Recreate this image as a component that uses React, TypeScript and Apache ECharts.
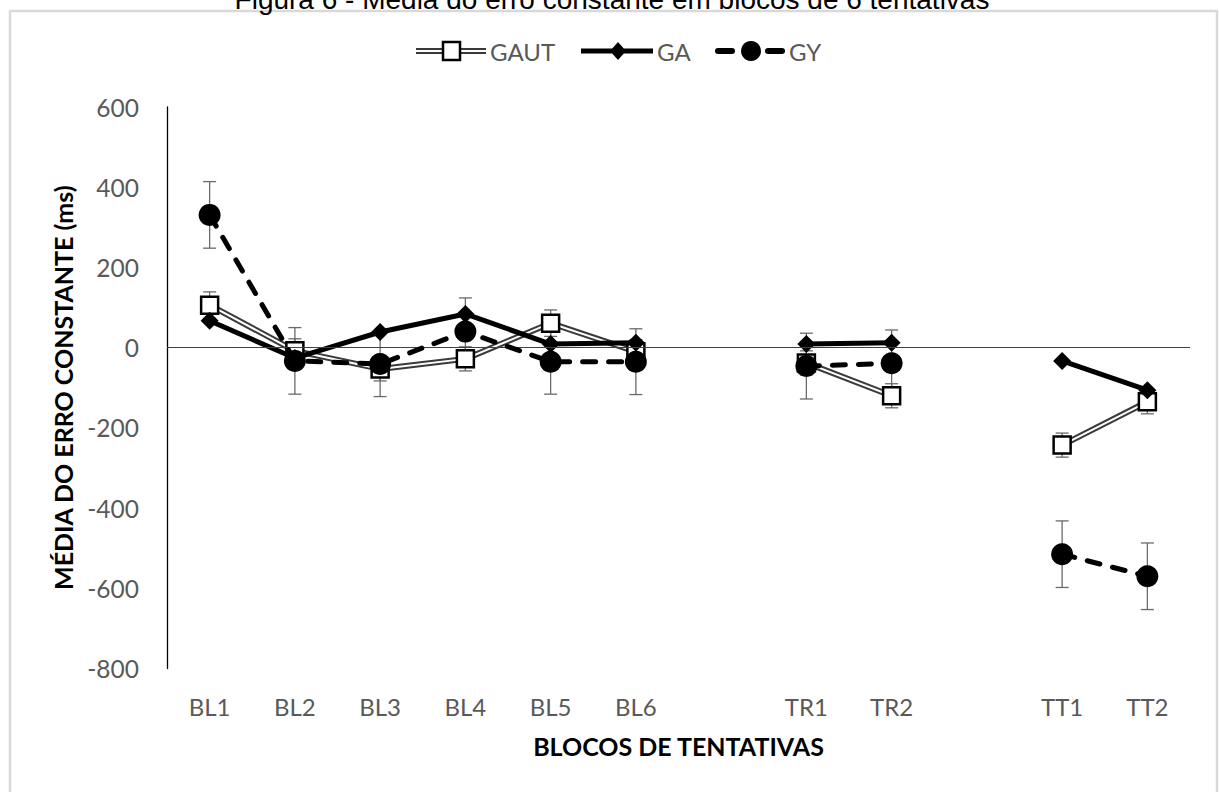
import React, { useEffect, useRef } from 'react';
import * as echarts from 'echarts';

const categories = ['BL1', 'BL2', 'BL3', 'BL4', 'BL5', 'BL6', '', 'TR1', 'TR2', '', 'TT1', 'TT2'];
const gautValues = [106, -8, -53, -28, 61, -10, null, -38, -120, null, -243, -135];
const gaValues = [67, -26, 39, 84, 9, 12, null, 9, 12, null, -33, -106];
const gyValues = [331, -33, -41, 40, -35, -35, null, -46, -39, null, -515, -570];
const gautErrors = [33, 30, 30, 30, 33, 30, null, 30, 30, null, 30, 30];
const gyErrors = [83, 83, 81, 84, 81, 82, null, 82, 83, null, 83, 83];
const yMin = -800;
const yMax = 600;
const yStep = 200;

const titleText = 'Figura 6 - Média do erro constante em blocos de 6 tentativas';
const yTitle = 'MÉDIA DO ERRO CONSTANTE (ms)';
const xTitle = 'BLOCOS DE TENTATIVAS';
const legendNames = ['GAUT', 'GA', 'GY'];

const FONT = 'Lato, "Open Sans", sans-serif';
const GRAY = '#595959';

function errData(vals: (number | null)[], errs: (number | null)[]) {
  const out: number[][] = [];
  vals.forEach((v, i) => {
    const e = errs[i];
    if (v !== null && e !== null) out.push([i, v - e, v + e]);
  });
  return out;
}

const errorRender = (_params: any, api: any) => {
  const x = api.value(0);
  const lo = api.coord([x, api.value(1)]);
  const hi = api.coord([x, api.value(2)]);
  const cap = 6.5;
  const style = { stroke: '#6a6a6a', lineWidth: 1.3 };
  return {
    type: 'group',
    children: [
      { type: 'line', shape: { x1: hi[0], y1: hi[1], x2: lo[0], y2: lo[1] }, style },
      { type: 'line', shape: { x1: hi[0] - cap, y1: hi[1], x2: hi[0] + cap, y2: hi[1] }, style },
      { type: 'line', shape: { x1: lo[0] - cap, y1: lo[1], x2: lo[0] + cap, y2: lo[1] }, style },
    ],
  };
};

export default function App() {
  const ref = useRef<HTMLDivElement>(null);
  useEffect(() => {
    if (!ref.current) return;
    const chart = echarts.init(ref.current, undefined, { renderer: 'svg' });
    const legendY = 51;
    const option: any = {
      animation: false,
      backgroundColor: '#ffffff',
      grid: { left: 167, right: 29, top: 107, bottom: 123.5, containLabel: false },
      xAxis: {
        type: 'category',
        data: categories,
        boundaryGap: true,
        axisLine: { show: false, onZero: false },
        axisTick: { show: false },
        splitLine: { show: false },
        axisLabel: { color: GRAY, fontFamily: FONT, fontSize: 24, margin: 26, interval: 0 },
        name: xTitle,
        nameLocation: 'middle',
        nameGap: 65,
        nameTextStyle: { color: '#000', fontFamily: FONT, fontSize: 25, fontWeight: 'bold' },
      },
      yAxis: {
        type: 'value',
        min: yMin,
        max: yMax,
        interval: yStep,
        axisLine: { show: true, lineStyle: { color: '#000', width: 1.3 } },
        axisTick: { show: false },
        splitLine: { show: false },
        axisLabel: { color: GRAY, fontFamily: FONT, fontSize: 24.5, margin: 28 },
        name: yTitle,
        nameLocation: 'middle',
        nameRotate: 90,
        nameGap: 92,
        nameTextStyle: { color: '#000', fontFamily: FONT, fontSize: 25, fontWeight: 'bold' },
      },
      series: [
        {
          type: 'custom',
          name: 'errGAUT',
          renderItem: errorRender,
          data: errData(gautValues, gautErrors),
          encode: { x: 0, y: [1, 2] },
          z: 1,
          silent: true,
        },
        {
          type: 'custom',
          name: 'errGY',
          renderItem: errorRender,
          data: errData(gyValues, gyErrors),
          encode: { x: 0, y: [1, 2] },
          z: 1,
          silent: true,
        },
        {
          type: 'line',
          name: 'GAUT_outline',
          data: gautValues,
          showSymbol: false,
          symbol: 'none',
          lineStyle: { color: '#3a3a3a', width: 6 },
          connectNulls: false,
          z: 2,
          markLine: {
            silent: true,
            symbol: ['none', 'none'],
            label: { show: false },
            lineStyle: { color: '#404040', width: 1.2, type: 'solid' },
            data: [{ yAxis: 0 }],
          },
        },
        {
          type: 'line',
          name: 'GAUT',
          data: gautValues,
          symbol: 'rect',
          symbolSize: 17,
          lineStyle: { color: '#ffffff', width: 2 },
          itemStyle: { color: '#ffffff', borderColor: '#000', borderWidth: 2.5 },
          connectNulls: false,
          z: 3,
        },
        {
          type: 'line',
          name: 'GA',
          data: gaValues,
          symbol: 'diamond',
          symbolSize: 18,
          lineStyle: { color: '#000', width: 5 },
          itemStyle: { color: '#000' },
          connectNulls: false,
          z: 4,
        },
        {
          type: 'line',
          name: 'GY',
          data: gyValues,
          symbol: 'circle',
          symbolSize: 22,
          lineStyle: { color: '#000', width: 5, type: [13, 13], cap: 'round' },
          itemStyle: { color: '#000' },
          connectNulls: false,
          z: 5,
        },
      ],
      graphic: [
        {
          type: 'rect',
          shape: { x: 10, y: 11, width: 1207, height: 800 },
          style: { fill: 'none', stroke: '#d9d9d9', lineWidth: 2.5 },
          silent: true,
        },
        {
          type: 'text',
          x: 612,
          y: -1,
          style: {
            text: titleText,
            fill: '#000',
            fontFamily: '"Liberation Sans", Arial, sans-serif',
            fontSize: 28,
            align: 'center',
            verticalAlign: 'middle',
          },
          silent: true,
        },
        // legend GAUT
        { type: 'line', shape: { x1: 416, y1: legendY, x2: 486, y2: legendY }, style: { stroke: '#3a3a3a', lineWidth: 6 } },
        { type: 'line', shape: { x1: 416, y1: legendY, x2: 486, y2: legendY }, style: { stroke: '#ffffff', lineWidth: 2 } },
        { type: 'rect', shape: { x: 443, y: legendY - 9, width: 17, height: 18 }, style: { fill: '#fff', stroke: '#000', lineWidth: 2.5 } },
        {
          type: 'text', x: 490, y: legendY,
          style: { text: legendNames[0], fill: GRAY, fontFamily: FONT, fontSize: 24, align: 'left', verticalAlign: 'middle' },
        },
        // legend GA
        { type: 'line', shape: { x1: 581, y1: legendY, x2: 653, y2: legendY }, style: { stroke: '#000', lineWidth: 5 } },
        {
          type: 'polygon',
          shape: { points: [[618, legendY - 9], [626, legendY], [618, legendY + 9], [610, legendY]] },
          style: { fill: '#000' },
        },
        {
          type: 'text', x: 657, y: legendY,
          style: { text: legendNames[1], fill: GRAY, fontFamily: FONT, fontSize: 24, align: 'left', verticalAlign: 'middle' },
        },
        // legend GY
        { type: 'line', shape: { x1: 718, y1: legendY, x2: 732, y2: legendY }, style: { stroke: '#000', lineWidth: 6, lineCap: 'round' } },
        { type: 'line', shape: { x1: 768, y1: legendY, x2: 782, y2: legendY }, style: { stroke: '#000', lineWidth: 6, lineCap: 'round' } },
        { type: 'circle', shape: { cx: 751, cy: legendY, r: 10 }, style: { fill: '#000' } },
        {
          type: 'text', x: 789, y: legendY,
          style: { text: legendNames[2], fill: GRAY, fontFamily: FONT, fontSize: 24, align: 'left', verticalAlign: 'middle' },
        },
      ],
    };
    chart.setOption(option);
    return () => chart.dispose();
  }, []);
  return (
    <div
      ref={ref}
      style={{ position: 'absolute', left: 0, top: 0, width: 1219, height: 792, background: '#fff' }}
    />
  );
}
